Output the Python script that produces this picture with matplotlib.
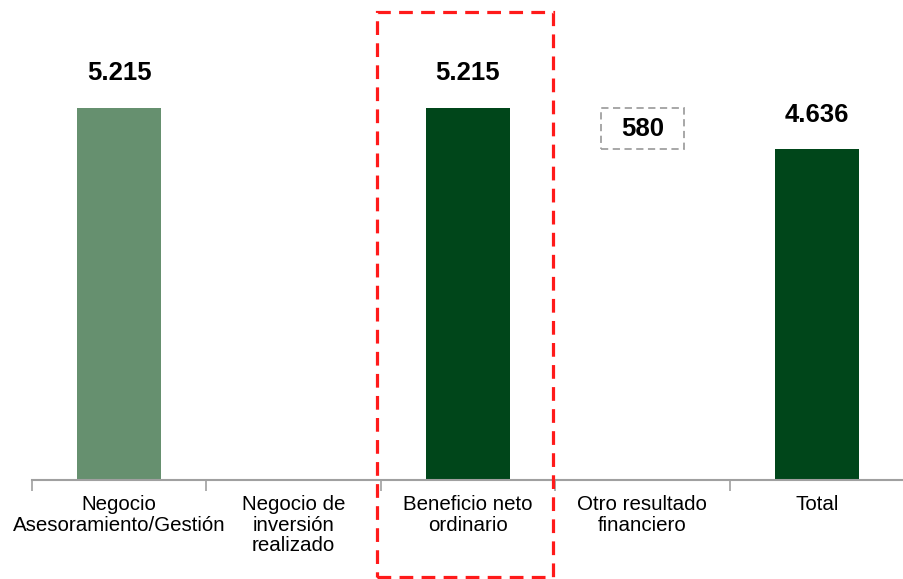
import numpy as np
import matplotlib.pyplot as plt
from matplotlib.patches import Rectangle

plt.rcParams['font.family'] = ['Liberation Sans', 'DejaVu Sans']

# Datos
categorias = ["Negocio\nAsesoramiento/Gestión", "Negocio de\ninversión\nrealizado",
              "Beneficio neto\nordinario", "Otro resultado\nfinanciero", "Total"]
base = [0, 0, 0, 4636, 0]
valores = [5215, 0, 5215, 580, 4636]
etiquetas = ["5.215", "", "5.215", "580", "4.636"]
colores = ["#66906f", "#ffffff", "#00461a", "#ffffff", "#00461a"]

fig = plt.figure(figsize=(9.04, 5.79), dpi=100)
ax = fig.add_axes([32/904, 99/579, 872/904, 480/579])

x = np.arange(len(categorias))
barras = ax.bar(x, valores, bottom=base, width=0.48, color=colores)
# barra flotante con borde discontinuo
barras[3].set_edgecolor("#a0a0a0")
barras[3].set_linestyle((0, (4, 2.5)))
barras[3].set_linewidth(1.3)

for i in range(len(categorias)):
    if etiquetas[i] == "":
        continue
    if i == 3:
        ax.text(x[i], base[i] + valores[i] / 2, etiquetas[i], ha="center", va="center",
                fontsize=18.5, fontweight="bold")
    else:
        ax.annotate(etiquetas[i], (x[i], base[i] + valores[i]), xytext=(0, 25),
                    textcoords="offset points", ha="center", va="center",
                    fontsize=18.5, fontweight="bold")

ax.set_xlim(-0.5, 4.5)
ax.set_ylim(0, 6729)
ax.set_yticks([])
ax.set_xticks(x)
ax.set_xticklabels(categorias, fontsize=14.8, linespacing=1.1)
ax.tick_params(axis="x", length=0, pad=11)
ax.set_xticks(np.arange(-0.5, 5, 1), minor=True)
ax.tick_params(axis="x", which="minor", length=8, color="#a0a0a0", width=1.2)
for s in ["top", "right", "left"]:
    ax.spines[s].set_visible(False)
ax.spines["bottom"].set_color("#a0a0a0")
ax.spines["bottom"].set_linewidth(1.5)

# Recuadro rojo
rect = Rectangle((377/904, 2/579), 176/904, 565/579, transform=fig.transFigure,
                 fill=False, ec="#ff1a1a", lw=2.3, ls=(0, (4.3, 2.6)), clip_on=False)
fig.patches.append(rect)

plt.savefig("out.png", dpi=100)
